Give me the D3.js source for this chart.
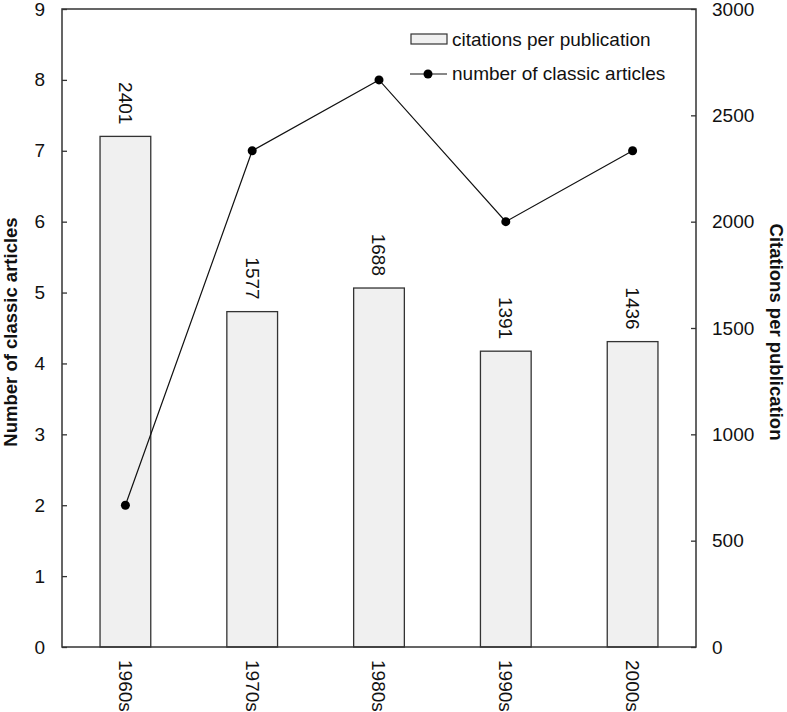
<!DOCTYPE html>
<html><head><meta charset="utf-8">
<script src="https://cdn.jsdelivr.net/npm/d3@7"></script>
<style>body{margin:0;background:#fff;} text{font-family:"Liberation Sans",Arial,sans-serif;}</style>
</head><body>
<svg id="c" width="787" height="712"></svg>
<script>
const categories = ["1960s","1970s","1980s","1990s","2000s"];
const citations = [2401,1577,1688,1391,1436];
const articles = [2,7,8,6,7];
const leftTicks = [0,1,2,3,4,5,6,7,8,9];
const rightTicks = [0,500,1000,1500,2000,2500,3000];

const svg = d3.select("#c");
const L=62,R=696,T=9,B=647;
const x = d3.scaleBand().domain(categories).range([L,R]).padding(0);
const yL = d3.scaleLinear().domain([0,9]).range([B,T]);
const yR = d3.scaleLinear().domain([0,3000]).range([B,T]);
const ink="#333";
const fs=19;

// bars
const bw = x.bandwidth()*0.4;
svg.selectAll("rect.bar").data(categories).enter().append("rect")
  .attr("x",(d)=>x(d)+x.bandwidth()/2-bw/2)
  .attr("y",(d,i)=>yR(citations[i]))
  .attr("width",bw).attr("height",(d,i)=>B-yR(citations[i]))
  .attr("fill","#f0f0f0").attr("stroke",ink).attr("stroke-width",1.3);

// bar labels
svg.selectAll("text.bl").data(categories).enter().append("text")
  .attr("transform",(d,i)=>`translate(${x(d)+x.bandwidth()/2},${yR(citations[i])-12}) rotate(90)`)
  .attr("text-anchor","end").attr("dy","0.35em").attr("font-size",fs).attr("fill","#111")
  .text((d,i)=>citations[i]);

// frame
svg.append("rect").attr("x",L).attr("y",T).attr("width",R-L).attr("height",B-T)
  .attr("fill","none").attr("stroke",ink).attr("stroke-width",1.5);

// left axis
const la = svg.append("g").attr("transform",`translate(${L},0)`)
  .call(d3.axisLeft(yL).tickValues(leftTicks).tickSize(-5).tickPadding(17).tickFormat(d3.format("d")));
la.select(".domain").remove();
la.selectAll("line").attr("stroke",ink).attr("stroke-width",1.3);
la.selectAll("text").attr("font-size",fs).attr("fill","#111").style("font-family",'"Liberation Sans",Arial,sans-serif');

// right axis
const ra = svg.append("g").attr("transform",`translate(${R},0)`)
  .call(d3.axisRight(yR).tickValues(rightTicks).tickSize(-5).tickPadding(16).tickFormat(d3.format("d")));
ra.select(".domain").remove();
ra.selectAll("line").attr("stroke",ink).attr("stroke-width",1.3);
ra.selectAll("text").attr("font-size",fs).attr("fill","#111").style("font-family",'"Liberation Sans",Arial,sans-serif');

// x labels
svg.selectAll("text.xl").data(categories).enter().append("text")
  .attr("transform",d=>`translate(${x(d)+x.bandwidth()/2},${B+13}) rotate(90)`)
  .attr("text-anchor","start").attr("dy","0.35em").attr("font-size",fs).attr("fill","#111")
  .text(d=>d);

// line
const line = d3.line().x((d,i)=>x(categories[i])+x.bandwidth()/2).y(d=>yL(d));
svg.append("path").datum(articles).attr("d",line).attr("fill","none").attr("stroke","#111").attr("stroke-width",1.2);
svg.selectAll("circle.pt").data(articles).enter().append("circle")
  .attr("cx",(d,i)=>x(categories[i])+x.bandwidth()/2).attr("cy",d=>yL(d)).attr("r",4.5).attr("fill","#000");

// axis titles
svg.append("text").attr("transform",`translate(11,332) rotate(-90)`)
  .attr("text-anchor","middle").attr("dy","0.35em").attr("font-size",18.5).attr("font-weight","bold").attr("fill","#111")
  .text("Number of classic articles");
svg.append("text").attr("transform",`translate(776,332) rotate(90)`)
  .attr("text-anchor","middle").attr("dy","0.35em").attr("font-size",18.5).attr("font-weight","bold").attr("fill","#111")
  .text("Citations per publication");

// legend
const lg = svg.append("g");
lg.append("rect").attr("x",411).attr("y",34).attr("width",36).attr("height",10).attr("fill","#f0f0f0").attr("stroke",ink).attr("stroke-width",1.2);
lg.append("text").attr("x",452).attr("y",46).attr("font-size",fs).attr("fill","#111").text("citations per publication");
lg.append("line").attr("x1",410).attr("x2",447).attr("y1",74).attr("y2",74).attr("stroke","#111").attr("stroke-width",1.2);
lg.append("circle").attr("cx",428).attr("cy",74).attr("r",4.5).attr("fill","#000");
lg.append("text").attr("x",452).attr("y",80).attr("font-size",fs).attr("fill","#111").text("number of classic articles");
</script>
</body></html>
